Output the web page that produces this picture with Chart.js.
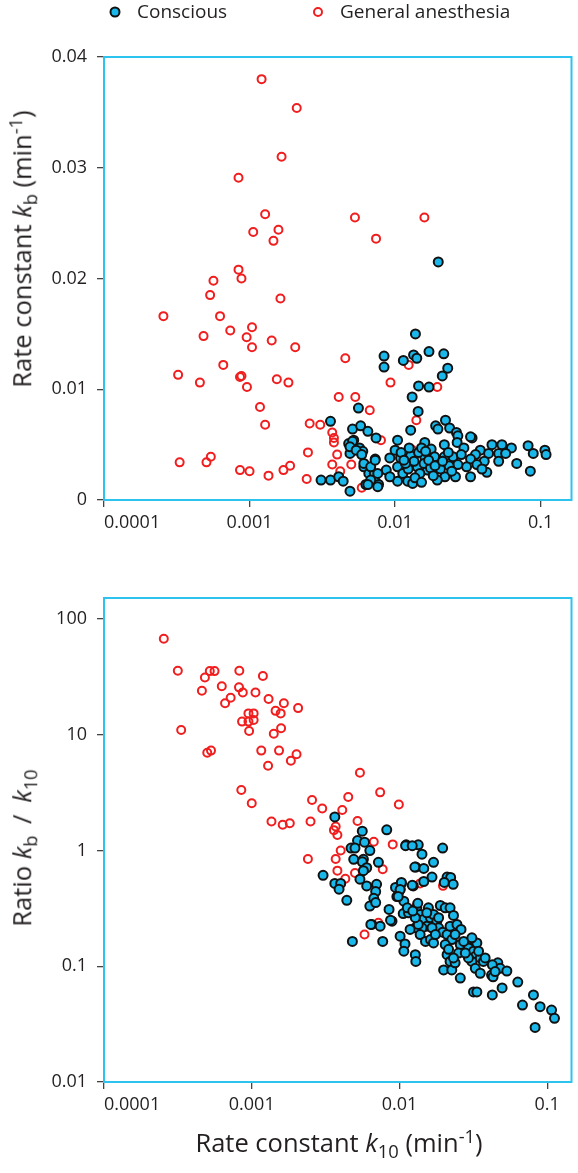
<!DOCTYPE html>
<html>
<head>
<meta charset="utf-8">
<script src="https://cdn.jsdelivr.net/npm/chart.js@4/dist/chart.umd.min.js"></script>
<style>
  body { margin: 0; background: #fff; }
  #wrap { position: relative; width: 578px; height: 1173px; font-family: 'Open Sans', sans-serif; color: #231f20; }
  canvas { position: absolute; left: 0; }
  .title { position: absolute; white-space: nowrap; font-size: 25.5px; line-height: 1; }
  .title sub, .title sup { font-size: 0.72em; line-height: 0; }
  .ytitle { transform: translate(-50%, -50%) rotate(-90deg); }
  .xtitle { transform: translate(-50%, -50%); }
  .gap { margin: 0 0.2em; }
</style>
</head>
<body>
<div id="wrap">
  <canvas id="kbChart" width="578" height="545" style="top:0"></canvas>
  <canvas id="ratioChart" width="578" height="628" style="top:545px"></canvas>
  <div class="title ytitle" style="left:22px; top:249px">Rate constant <i>k</i><sub>b</sub> (min<sup>-1</sup>)</div>
  <div class="title ytitle" style="left:22px; top:848px">Ratio <i>k</i><sub>b</sub> <span class="gap">/</span> <i>k</i><sub>10</sub></div>
  <div class="title xtitle" style="left:339px; top:1143px">Rate constant <i>k</i><sub>10</sub> (min<sup>-1</sup>)</div>
</div>
<script>
// series names and ticks
const seriesNames = ['Conscious', 'General anesthesia'];
const k10Ticks = [0.0001, 0.001, 0.01, 0.1];
const kbTicks = [0, 0.01, 0.02, 0.03, 0.04];
const ratioTicks = [0.01, 0.1, 1, 10, 100];

// top panel: [k10, kb]
const consciousKb = [
  [0.0198, 0.0215], [0.0138, 0.015], [0.0084, 0.013], [0.0084, 0.012], [0.0114, 0.0126],
  [0.0134, 0.0131], [0.0141, 0.0128], [0.0171, 0.0134], [0.0216, 0.0132], [0.023, 0.0119],
  [0.0211, 0.0112], [0.0145, 0.0103], [0.0171, 0.0102], [0.0131, 0.0093], [0.0056, 0.0083],
  [0.0144, 0.008], [0.0128, 0.0063], [0.0036, 0.0071], [0.0222, 0.0072], [0.019, 0.0067],
  [0.0197, 0.0064], [0.0237, 0.0065], [0.0264, 0.0061], [0.027, 0.0058], [0.0338, 0.0056],
  [0.0267, 0.0052], [0.016, 0.0052], [0.0177, 0.0046], [0.0218, 0.005], [0.0297, 0.0047],
  [0.0385, 0.0045], [0.0463, 0.005], [0.0542, 0.005], [0.063, 0.0047], [0.082, 0.0049],
  [0.107, 0.0045], [0.109, 0.0041], [0.089, 0.0042], [0.0515, 0.0042], [0.0439, 0.0042],
  [0.0357, 0.0041], [0.033, 0.0037], [0.025, 0.0039], [0.0218, 0.0039], [0.0187, 0.0039],
  [0.016, 0.0039], [0.0515, 0.0035], [0.0685, 0.0033], [0.085, 0.0026], [0.0427, 0.0025],
  [0.033, 0.0021], [0.026, 0.0021], [0.022, 0.0021], [0.0195, 0.0018], [0.0167, 0.0027],
  [0.0142, 0.003], [0.031, 0.003], [0.027, 0.0032], [0.041, 0.0035], [0.0051, 0.0064],
  [0.0058, 0.0067], [0.0065, 0.0062], [0.0074, 0.0056], [0.0048, 0.0051], [0.0052, 0.0054],
  [0.0057, 0.0047], [0.006, 0.0044], [0.0049, 0.0042], [0.0073, 0.0037], [0.0061, 0.003],
  [0.0066, 0.0024], [0.0072, 0.0024], [0.0073, 0.0017], [0.0063, 0.0014], [0.0077, 0.0014],
  [0.0087, 0.0027], [0.0092, 0.0038], [0.010, 0.0045], [0.0104, 0.0054], [0.0109, 0.0038],
  [0.0104, 0.003], [0.0113, 0.0024], [0.0104, 0.0017], [0.0092, 0.0021], [0.0122, 0.0017],
  [0.0132, 0.0015], [0.0031, 0.0018], [0.0036, 0.0018], [0.0041, 0.0021], [0.0044, 0.0017],
  [0.0049, 0.0008], [0.0128, 0.004], [0.0135, 0.0035], [0.0145, 0.0043], [0.0152, 0.0047],
  [0.0148, 0.0024], [0.0158, 0.0033], [0.0175, 0.0029], [0.0183, 0.0022], [0.0123, 0.0028],
  [0.0118, 0.0033], [0.0137, 0.002], [0.0152, 0.0016], [0.017, 0.0036], [0.0205, 0.0028],
  [0.0235, 0.0031], [0.0245, 0.0026], [0.0285, 0.0041], [0.0365, 0.0032], [0.0395, 0.0028],
  [0.0575, 0.0042], [0.033, 0.0057], [0.0051, 0.0053], [0.0049, 0.0048], [0.0054, 0.0045],
  [0.0059, 0.0041], [0.0061, 0.0033], [0.0068, 0.003], [0.0076, 0.0024], [0.0068, 0.0018],
  [0.0076, 0.0012], [0.0065, 0.0014], [0.0073, 0.0036], [0.011, 0.0043], [0.0115, 0.0036],
  [0.0125, 0.0047], [0.0162, 0.0044], [0.0188, 0.0031], [0.0212, 0.0035], [0.0232, 0.0043]
];
const anesthesiaKb = [
  [0.00121, 0.038], [0.00211, 0.0354], [0.00166, 0.031], [0.00084, 0.0291], [0.00128, 0.0258],
  [0.00106, 0.0242], [0.00158, 0.0244], [0.00146, 0.0234], [0.00084, 0.0208], [0.00088, 0.02],
  [0.000565, 0.0198], [0.000536, 0.0185], [0.00163, 0.0182], [0.000256, 0.0166], [0.000627, 0.0166],
  [0.000483, 0.0148], [0.000737, 0.0153], [0.00104, 0.0156], [0.000955, 0.0147], [0.00104, 0.0138],
  [0.00142, 0.0144], [0.00206, 0.0138], [0.00066, 0.0122], [0.000323, 0.0113], [0.000456, 0.0106],
  [0.00086, 0.0111], [0.00088, 0.0112], [0.00096, 0.0102], [0.00154, 0.0109], [0.00185, 0.0106],
  [0.00118, 0.0084], [0.00128, 0.0068], [0.00259, 0.0069], [0.00306, 0.0068], [0.00252, 0.0043],
  [0.000331, 0.0034], [0.000506, 0.0034], [0.000542, 0.0039], [0.00086, 0.0027], [0.001, 0.0026],
  [0.00135, 0.0022], [0.00171, 0.0027], [0.0019, 0.0031], [0.00247, 0.0019], [0.0041, 0.0093],
  [0.0037, 0.0061], [0.0038, 0.0056], [0.0038, 0.0052], [0.004, 0.0041], [0.0037, 0.0032],
  [0.0042, 0.0026], [0.00455, 0.0128], [0.0093, 0.0106], [0.0124, 0.0122], [0.00533, 0.0093],
  [0.0067, 0.0081], [0.008, 0.0054], [0.005, 0.0032], [0.0059, 0.0011], [0.0132, 0.0045],
  [0.014, 0.0072], [0.0195, 0.0102], [0.0053, 0.0255], [0.0159, 0.0255], [0.0074, 0.0236]
];

// bottom panel: [k10, kb / k10]
const consciousRatio = [
  [0.00365, 1.95], [0.0082, 1.51], [0.0056, 1.47], [0.0052, 1.22], [0.0058, 1.18],
  [0.0047, 1.05], [0.005, 1.05], [0.0063, 1.0], [0.0049, 0.84], [0.0057, 0.84],
  [0.0056, 0.8], [0.006, 0.71], [0.0057, 0.67], [0.0072, 0.79], [0.0111, 1.12],
  [0.0134, 1.12], [0.0142, 0.93], [0.0196, 1.05], [0.0129, 0.72], [0.0146, 0.7],
  [0.017, 0.79], [0.0166, 0.59], [0.0146, 0.54], [0.021, 0.59], [0.0222, 0.585],
  [0.0231, 0.51], [0.0201, 0.53], [0.0124, 0.494], [0.0103, 0.52], [0.00304, 0.61],
  [0.00365, 0.52], [0.004, 0.52], [0.0039, 0.463], [0.0044, 0.371], [0.006, 0.494],
  [0.007, 0.51], [0.0069, 0.442], [0.0067, 0.386], [0.0063, 0.331], [0.0069, 0.355],
  [0.0054, 0.566], [0.0085, 0.31], [0.0099, 0.44], [0.0096, 0.4], [0.0101, 0.463],
  [0.0107, 0.365], [0.0094, 0.48], [0.0106, 0.285], [0.0089, 0.245], [0.0065, 0.23],
  [0.0074, 0.222], [0.0048, 0.164], [0.0077, 0.164], [0.0101, 0.182], [0.0109, 0.156],
  [0.0107, 0.135], [0.0128, 0.126], [0.0129, 0.11], [0.0131, 0.32], [0.0125, 0.29],
  [0.0138, 0.28], [0.0146, 0.255], [0.0157, 0.32], [0.0162, 0.263], [0.017, 0.28],
  [0.0179, 0.245], [0.0153, 0.222], [0.0142, 0.215], [0.0128, 0.215], [0.0118, 0.208],
  [0.0138, 0.188], [0.015, 0.164], [0.0162, 0.17], [0.017, 0.159], [0.0189, 0.335],
  [0.0204, 0.32], [0.022, 0.32], [0.0232, 0.275], [0.0184, 0.215], [0.0196, 0.197],
  [0.021, 0.188], [0.022, 0.222], [0.0226, 0.17], [0.0204, 0.154], [0.0245, 0.23],
  [0.0261, 0.208], [0.0258, 0.154], [0.021, 0.126], [0.022, 0.11], [0.0199, 0.093],
  [0.0226, 0.093], [0.0238, 0.107], [0.0251, 0.13], [0.0286, 0.159], [0.0293, 0.144],
  [0.0317, 0.135], [0.0334, 0.159], [0.0326, 0.122], [0.0352, 0.118], [0.037, 0.11],
  [0.0309, 0.11], [0.0326, 0.096], [0.0293, 0.118], [0.0279, 0.13], [0.0258, 0.079],
  [0.0463, 0.107], [0.048, 0.096], [0.0533, 0.091], [0.042, 0.084], [0.043, 0.081],
  [0.0495, 0.065], [0.0425, 0.0565], [0.0317, 0.06], [0.0334, 0.06], [0.0632, 0.073],
  [0.0807, 0.0565], [0.068, 0.0462], [0.0895, 0.0447], [0.107, 0.0418], [0.112, 0.0355],
  [0.0828, 0.0296], [0.0115, 0.29], [0.0134, 0.23], [0.0166, 0.215], [0.0175, 0.188],
  [0.0184, 0.263], [0.0128, 0.263], [0.0153, 0.29], [0.0238, 0.188], [0.0272, 0.164],
  [0.0309, 0.176], [0.0215, 0.14], [0.0232, 0.118], [0.0343, 0.135], [0.038, 0.118],
  [0.0425, 0.103], [0.0444, 0.09], [0.0352, 0.087], [0.011, 1.1], [0.0122, 1.1],
  [0.0127, 0.72], [0.0103, 0.53], [0.0101, 0.46], [0.0098, 0.4], [0.0122, 0.5],
  [0.0113, 0.32], [0.0123, 0.3], [0.0133, 0.35], [0.0064, 0.23], [0.0087, 0.25]
];
const anesthesiaRatio = [
  [0.000254, 67.6], [0.000316, 35.7], [0.000333, 11.0], [0.000482, 31.3], [0.00052, 35.5],
  [0.00056, 35.5], [0.00046, 24.0], [0.000627, 26.3], [0.000824, 35.7], [0.00119, 32.2],
  [0.00082, 25.7], [0.00087, 23.2], [0.00066, 18.7], [0.00072, 20.9], [0.00106, 23.2],
  [0.0013, 20.4], [0.00165, 18.7], [0.00157, 15.3], [0.00145, 16.1], [0.00206, 17.0],
  [0.00095, 15.3], [0.00103, 15.3], [0.00095, 13.0], [0.00086, 13.0], [0.00103, 13.4],
  [0.00096, 10.8], [0.00141, 10.2], [0.00158, 11.4], [0.0005, 7.0], [0.00053, 7.3],
  [0.00116, 7.3], [0.00153, 7.3], [0.00129, 5.4], [0.00184, 5.97], [0.00201, 6.8],
  [0.00085, 3.33], [0.001, 2.56], [0.00256, 2.73], [0.003, 2.31], [0.0054, 4.7],
  [0.0045, 2.9], [0.0041, 2.24], [0.0074, 3.18], [0.0099, 2.5], [0.00136, 1.78],
  [0.00162, 1.67], [0.00181, 1.72], [0.0025, 1.78], [0.0052, 1.8], [0.0037, 1.61],
  [0.0038, 1.36], [0.0036, 1.5], [0.0067, 1.19], [0.009, 1.13], [0.0024, 0.845],
  [0.0037, 0.845], [0.004, 1.0], [0.0038, 0.67], [0.005, 0.64], [0.0043, 0.57],
  [0.0077, 0.69], [0.0197, 0.495], [0.0138, 0.52], [0.0131, 0.337], [0.0072, 0.238],
  [0.0058, 0.188]
];

const FRAME = '#2cc3ef';
const BLUE = '#1ab8ea';
const RED = '#f01e1e';
const TEXT = '#231f20';
const TICK = '#444';

Chart.defaults.font.family = "'Open Sans', sans-serif";
Chart.defaults.font.size = 18;
Chart.defaults.color = TEXT;

const toPoints = list => list.map(p => ({ x: p[0], y: p[1] }));

function makeDatasets(conscious, anesthesia) {
    return [{
        label: seriesNames[0],
        data: toPoints(conscious),
        pointRadius: 4.5,
        pointBorderWidth: 2,
        pointBackgroundColor: BLUE,
        pointBorderColor: '#111',
        showLine: false
    }, {
        label: seriesNames[1],
        data: toPoints(anesthesia),
        pointRadius: 4,
        pointBorderWidth: 2,
        pointBackgroundColor: 'rgba(255,255,255,0)',
        pointBorderColor: RED,
        showLine: false
    }];
}

// cyan box round the plot area
const framePlugin = {
    id: 'frame',
    afterDatasetsDraw(chart) {
        const { ctx, chartArea: a } = chart;
        ctx.save();
        ctx.strokeStyle = FRAME;
        ctx.lineWidth = 2;
        ctx.strokeRect(a.left, a.top, a.right - a.left, a.bottom - a.top);
        ctx.restore();
    }
};

// legend row above the top panel
const legendPlugin = {
    id: 'rowLegend',
    afterDraw(chart) {
        const ctx = chart.ctx;
        const xs = [115, 318];
        ctx.save();
        ctx.font = "19px 'Open Sans', sans-serif";
        ctx.textBaseline = 'middle';
        chart.data.datasets.forEach((ds, i) => {
            ctx.beginPath();
            ctx.arc(xs[i], 12, ds.pointRadius, 0, Math.PI * 2);
            ctx.fillStyle = ds.pointBackgroundColor;
            ctx.fill();
            ctx.lineWidth = ds.pointBorderWidth;
            ctx.strokeStyle = ds.pointBorderColor;
            ctx.stroke();
            ctx.fillStyle = TEXT;
            ctx.fillText(ds.label, xs[i] + 22, 13);
        });
        ctx.restore();
    }
};

// x axis: an unlabeled, invisible tick at the right edge lets 'inner'
// alignment start "0.0001" at its tick while "0.1" stays centred
function xAxis(max, height) {
    return {
        type: 'logarithmic',
        min: 0.0001,
        max: max,
        grid: {
            drawOnChartArea: false, drawTicks: true, tickLength: 7, lineWidth: 1.3,
            color: c => (c.tick && k10Ticks.includes(c.tick.value)) ? TICK : 'rgba(0,0,0,0)'
        },
        border: { display: false },
        ticks: {
            padding: 5, color: TEXT, autoSkip: false, maxRotation: 0, align: 'inner',
            callback: v => k10Ticks.includes(v) ? String(v) : ''
        },
        afterBuildTicks: s => { s.ticks = k10Ticks.concat([max]).map(v => ({ value: v })); },
        afterFit: s => { s.height = height; }
    };
}

function yAxis(type, min, max, ticks) {
    return {
        type: type,
        min: min,
        max: max,
        grid: { drawOnChartArea: false, drawTicks: true, tickLength: 7, color: TICK, lineWidth: 1.3 },
        border: { display: false },
        ticks: { padding: 10, color: TEXT, autoSkip: false, callback: v => String(v) },
        afterBuildTicks: s => { s.ticks = ticks.map(v => ({ value: v })); },
        afterFit: s => { s.width = 104; }
    };
}

const commonOptions = {
    responsive: false,
    animation: false,
    events: [],
    plugins: { legend: { display: false }, tooltip: { enabled: false } }
};

new Chart(document.getElementById('kbChart'), {
    type: 'scatter',
    data: { datasets: makeDatasets(consciousKb, anesthesiaKb) },
    options: Object.assign({}, commonOptions, {
        layout: { padding: { top: 57, right: 3, left: 0, bottom: 0 } },
        scales: {
            x: xAxis(0.163, 45),
            y: yAxis('linear', 0, 0.04, kbTicks)
        }
    }),
    plugins: [framePlugin, legendPlugin]
});

new Chart(document.getElementById('ratioChart'), {
    type: 'scatter',
    data: { datasets: makeDatasets(consciousRatio, anesthesiaRatio) },
    options: Object.assign({}, commonOptions, {
        layout: { padding: { top: 53, right: 3, left: 0, bottom: 0 } },
        scales: {
            x: xAxis(0.146, 91),
            y: yAxis('logarithmic', 0.01, 152, ratioTicks)
        }
    }),
    plugins: [framePlugin]
});
</script>
</body>
</html>
